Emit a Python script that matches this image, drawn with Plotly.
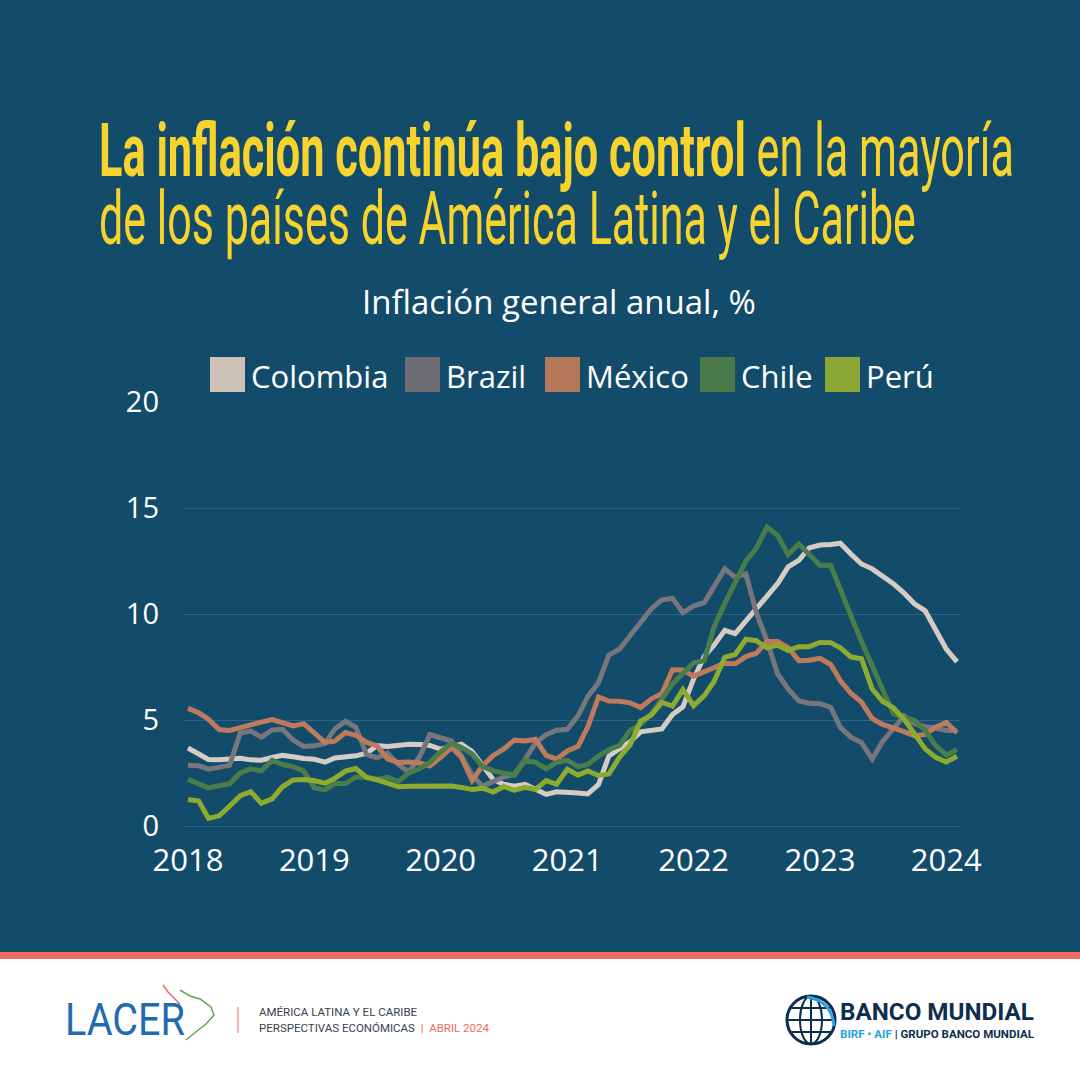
import plotly.graph_objects as go
import pandas as pd

# ---------------- data (annual headline inflation, %, monthly Jan-2018 .. Feb-2024) ----------------
months = pd.date_range("2018-01-01", "2024-02-01", freq="MS")

colombia = [3.68, 3.37, 3.14, 3.13, 3.16, 3.20, 3.12, 3.10, 3.23, 3.33, 3.27, 3.18,
            3.15, 3.01, 3.21, 3.25, 3.31, 3.43, 3.79, 3.75, 3.82, 3.86, 3.84, 3.80,
            3.62, 3.72, 3.86, 3.51, 2.85, 2.19, 1.97, 1.88, 1.97, 1.75, 1.49, 1.61,
            1.60, 1.56, 1.51, 1.95, 3.30, 3.63, 3.97, 4.44, 4.51, 4.58, 5.26, 5.62,
            6.94, 8.01, 8.53, 9.23, 9.07, 9.67, 10.21, 10.84, 11.44, 12.22, 12.53, 13.12,
            13.25, 13.28, 13.34, 12.82, 12.36, 12.13, 11.78, 11.43, 10.99, 10.48, 10.15, 9.28,
            8.35, 7.74]

brazil = [2.86, 2.84, 2.68, 2.76, 2.86, 4.39, 4.48, 4.19, 4.53, 4.56, 4.05, 3.75,
          3.78, 3.89, 4.58, 4.94, 4.66, 3.37, 3.22, 3.43, 2.89, 2.54, 3.27, 4.31,
          4.19, 4.01, 3.30, 2.40, 1.88, 2.13, 2.31, 2.44, 3.14, 3.92, 4.31, 4.52,
          4.56, 5.20, 6.10, 6.76, 8.06, 8.35, 8.99, 9.68, 10.25, 10.67, 10.74, 10.06,
          10.38, 10.54, 11.30, 12.13, 11.73, 11.89, 10.07, 8.73, 7.17, 6.47, 5.90, 5.79,
          5.77, 5.60, 4.65, 4.18, 3.94, 3.16, 3.99, 4.61, 5.19, 4.82, 4.68, 4.62,
          4.51, 4.50]

mexico = [5.55, 5.34, 5.04, 4.55, 4.51, 4.65, 4.81, 4.90, 5.02, 4.90, 4.72, 4.83,
          4.37, 3.94, 4.00, 4.41, 4.28, 3.95, 3.78, 3.16, 3.00, 3.02, 2.97, 2.83,
          3.24, 3.70, 3.25, 2.15, 2.84, 3.33, 3.62, 4.05, 4.01, 4.09, 3.33, 3.15,
          3.54, 3.76, 4.67, 6.08, 5.89, 5.88, 5.81, 5.59, 6.00, 6.24, 7.37, 7.36,
          7.07, 7.28, 7.45, 7.68, 7.65, 7.99, 8.15, 8.70, 8.70, 8.41, 7.80, 7.82,
          7.91, 7.62, 6.85, 6.25, 5.84, 5.06, 4.79, 4.64, 4.45, 4.26, 4.32, 4.66,
          4.88, 4.40]

chile = [2.2, 2.0, 1.8, 1.9, 2.0, 2.5, 2.7, 2.6, 3.1, 2.9, 2.8, 2.6,
         1.8, 1.7, 2.0, 2.0, 2.3, 2.3, 2.2, 2.3, 2.1, 2.5, 2.7, 3.0,
         3.5, 3.9, 3.7, 3.4, 2.8, 2.6, 2.5, 2.4, 3.1, 3.0, 2.7, 3.0,
         3.1, 2.8, 2.9, 3.3, 3.6, 3.8, 4.5, 4.8, 5.3, 6.0, 6.7, 7.2,
         7.7, 7.8, 9.4, 10.5, 11.5, 12.5, 13.1, 14.1, 13.7, 12.8, 13.3, 12.8,
         12.3, 12.3, 11.1, 9.9, 8.7, 7.6, 6.5, 5.3, 5.1, 5.0, 4.5, 3.8,
         3.35, 3.6]

peru = [1.25, 1.18, 0.36, 0.48, 0.93, 1.43, 1.62, 1.07, 1.28, 1.85, 2.17, 2.19,
        2.13, 2.02, 2.25, 2.59, 2.71, 2.29, 2.18, 2.04, 1.85, 1.87, 1.87, 1.90,
        1.90, 1.89, 1.82, 1.72, 1.78, 1.60, 1.86, 1.69, 1.82, 1.72, 2.14, 1.97,
        2.68, 2.40, 2.60, 2.38, 2.45, 3.25, 3.81, 4.95, 5.23, 5.83, 5.66, 6.43,
        5.68, 6.15, 6.82, 7.96, 8.09, 8.81, 8.74, 8.40, 8.53, 8.28, 8.45, 8.46,
        8.66, 8.65, 8.40, 7.97, 7.89, 6.46, 5.88, 5.58, 5.04, 4.34, 3.64, 3.24,
        3.02, 3.29]

series_names = ["Colombia", "Brazil", "México", "Chile", "Perú"]
series_values = [colombia, brazil, mexico, chile, peru]
series_colors = ["#D6CCC3", "#77767D", "#BE7B5B", "#4B7D4B", "#8DAB2F"]
legend_colors = ["#CDC2B8", "#6E6D74", "#B5775A", "#4A7A4A", "#8BA632"]

year_ticks = pd.date_range("2018-01-01", "2024-01-01", freq="YS")
year_labels = ["2018", "2019", "2020", "2021", "2022", "2023", "2024"]
y_ticks = [0, 5, 10, 15, 20]

# ---------------- layout helpers (pixel -> paper) ----------------
W, H = 1080, 1080
L, R, T, B = 184, 960, 402, 826
BG = "#134B6B"
GRID = "#2D6386"
YELLOW = "#F6D32D"
CORAL = "#EC6A62"
NAVY = "#0E2D4F"
FONT = "Open Sans, Noto Sans, sans-serif"


def px(x):
    return (x - L) / (R - L)


def py(y):
    return (B - y) / (B - T)


fig = go.Figure()
for name, vals, col in zip(series_names, series_values, series_colors):
    fig.add_trace(go.Scatter(
        x=months, y=vals, name=name, mode="lines",
        line=dict(color=col, width=5),
        showlegend=False, hoverinfo="x+y+name",
    ))

shapes = []
annotations = []

# footer background
shapes.append(dict(type="rect", xref="paper", yref="paper", layer="below",
                   x0=px(-10), x1=px(W + 10), y0=py(959), y1=py(H + 10),
                   fillcolor="white", line=dict(width=0)))
shapes.append(dict(type="rect", xref="paper", yref="paper", layer="below",
                   x0=px(-10), x1=px(W + 10), y0=py(952), y1=py(959),
                   fillcolor=CORAL, line=dict(width=0)))

# title
annotations.append(dict(xref="paper", yref="paper", x=px(97), y=py(151),
                        xanchor="left", yanchor="middle", showarrow=False,
                        text="<b>La inflación continúa bajo control</b> en la mayoría",
                        font=dict(family="Roboto, Open Sans, sans-serif", size=74, color=YELLOW)))
annotations.append(dict(xref="paper", yref="paper", x=px(97), y=py(218),
                        xanchor="left", yanchor="middle", showarrow=False,
                        text="de los países de América Latina y el Caribe",
                        font=dict(family="Roboto, Open Sans, sans-serif", size=74, color=YELLOW)))
# subtitle
annotations.append(dict(xref="paper", yref="paper", x=px(559), y=py(301),
                        xanchor="center", yanchor="middle", showarrow=False,
                        text="Inflación general anual, %",
                        font=dict(family=FONT, size=33, color="white")))

# legend (square swatches)
legend_sq_x = [210, 405, 545, 700, 825]
for name, col, x0 in zip(series_names, legend_colors, legend_sq_x):
    shapes.append(dict(type="rect", xref="paper", yref="paper",
                       x0=px(x0), x1=px(x0 + 35), y0=py(392), y1=py(357),
                       fillcolor=col, line=dict(width=0)))
    annotations.append(dict(xref="paper", yref="paper", x=px(x0 + 39), y=py(376),
                            xanchor="left", yanchor="middle", showarrow=False,
                            text=name, font=dict(family=FONT, size=31, color="white")))

# footer: LACER
annotations.append(dict(xref="paper", yref="paper", x=px(63), y=py(1020),
                        xanchor="left", yanchor="middle", showarrow=False,
                        text="LACER",
                        font=dict(family="Roboto, sans-serif", size=44, color="#1F6BB0")))
shapes.append(dict(type="path", xref="paper", yref="paper",
                   path="M {} {} L {} {} L {} {} L {} {} L {} {} L {} {} L {} {} L {} {}".format(
                       px(180), py(990), px(190), py(996), px(200), py(999), px(211), py(1007),
                       px(214), py(1015), px(206), py(1024), px(197), py(1031), px(186), py(1040)),
                   line=dict(color="#5DA84A", width=1.5)))
shapes.append(dict(type="path", xref="paper", yref="paper",
                   path="M {} {} L {} {} L {} {} L {} {}".format(
                       px(163), py(985), px(168), py(992), px(174), py(998), px(180), py(1004)),
                   line=dict(color=CORAL, width=1.5)))
shapes.append(dict(type="line", xref="paper", yref="paper",
                   x0=px(238), x1=px(238), y0=py(1007), y1=py(1033),
                   line=dict(color=CORAL, width=1)))
annotations.append(dict(xref="paper", yref="paper", x=px(257), y=py(1012),
                        xanchor="left", yanchor="middle", showarrow=False,
                        text="AMÉRICA LATINA Y EL CARIBE",
                        font=dict(family="Roboto, sans-serif", size=11.5, color="#34424F")))
annotations.append(dict(xref="paper", yref="paper", x=px(257), y=py(1028),
                        xanchor="left", yanchor="middle", showarrow=False,
                        text="PERSPECTIVAS ECONÓMICAS  <span style='color:%s'>|  ABRIL 2024</span>" % CORAL,
                        font=dict(family="Roboto, sans-serif", size=11.5, color="#34424F")))

# footer: Banco Mundial globe
gx, gy, gr = 811, 1020, 24
shapes.append(dict(type="circle", xref="paper", yref="paper",
                   x0=px(gx - gr), x1=px(gx + gr), y0=py(gy + gr), y1=py(gy - gr),
                   line=dict(color=NAVY, width=3)))
shapes.append(dict(type="circle", xref="paper", yref="paper",
                   x0=px(gx - 11), x1=px(gx + 11), y0=py(gy + gr), y1=py(gy - gr),
                   line=dict(color=NAVY, width=2)))
shapes.append(dict(type="line", xref="paper", yref="paper",
                   x0=px(gx), x1=px(gx), y0=py(gy + gr), y1=py(gy - gr),
                   line=dict(color=NAVY, width=2)))
for dy in (-12, 0, 12):
    half = (gr ** 2 - dy ** 2) ** 0.5
    shapes.append(dict(type="line", xref="paper", yref="paper",
                       x0=px(gx - half), x1=px(gx + half), y0=py(gy + dy), y1=py(gy + dy),
                       line=dict(color=NAVY, width=2)))
shapes.append(dict(type="path", xref="paper", yref="paper",
                   path="M {} {} Q {} {} {} {}".format(px(gx - 4), py(gy - gr + 1), px(gx + 21), py(gy - 19),
                                                    px(gx + gr - 1), py(gy + 6)),
                   line=dict(color="#27A3DD", width=3)))
annotations.append(dict(xref="paper", yref="paper", x=px(838), y=py(1012),
                        xanchor="left", yanchor="middle", showarrow=False,
                        text="<b>BANCO MUNDIAL</b>",
                        font=dict(family="Roboto, sans-serif", size=24, color=NAVY)))
annotations.append(dict(xref="paper", yref="paper", x=px(838), y=py(1034),
                        xanchor="left", yanchor="middle", showarrow=False,
                        text="<b><span style='color:#1FA2DC'>BIRF • AIF</span> | GRUPO BANCO MUNDIAL</b>",
                        font=dict(family="Roboto, sans-serif", size=11, color=NAVY)))

fig.update_layout(
    width=W, height=H,
    margin=dict(l=L, r=W - R, t=T, b=H - B, pad=0),
    paper_bgcolor=BG, plot_bgcolor=BG,
    showlegend=False,
    shapes=shapes, annotations=annotations,
    font=dict(family=FONT, color="white"),
    xaxis=dict(
        type="date",
        range=["2017-12-20 10:00", "2024-02-09 16:00"],
        tickvals=list(year_ticks), ticktext=year_labels,
        showgrid=False, zeroline=False, showline=False,
        ticks="", ticklabelstandoff=13,
        tickfont=dict(family=FONT, size=31, color="white"),
    ),
    yaxis=dict(
        range=[0, 20], tickvals=y_ticks,
        showgrid=True, gridcolor=GRID, gridwidth=1,
        zeroline=True, zerolinecolor=GRID, zerolinewidth=1,
        showline=False, ticks="", ticklabelstandoff=24,
        tickfont=dict(family=FONT, size=29, color="white"),
    ),
)

post_script = r"""
document.body.style.margin = '0';
document.body.style.overflow = 'hidden';
var gd = document.getElementById('{plot_id}');
var targets = [
  ['La inflaci', 915],
  ['de los pa', 817],
  ['LACER', 120],
  ['BANCO MUNDIAL</b>', 194],
  ['GRUPO BANCO', 192]
];
function squeeze(){
  document.querySelectorAll('text.annotation-text').forEach(function(t){
    var raw = t.getAttribute('data-unformatted') || t.textContent || '';
    var target = null;
    for (var i = 0; i < targets.length; i++) {
      if (raw.indexOf(targets[i][0]) >= 0) { target = targets[i][1]; break; }
    }
    if (!target) return;
    t.removeAttribute('transform');
    var bb = t.getBBox();
    if (!bb.width) return;
    var s = target / bb.width;
    t.setAttribute('transform', 'translate(' + (bb.x * (1 - s)) + ',0) scale(' + s + ',1)');
  });
}
squeeze();
if (gd && gd.on) { gd.on('plotly_afterplot', squeeze); }
"""

fig.write_html("out.html", post_script=post_script, config={"displayModeBar": False})
